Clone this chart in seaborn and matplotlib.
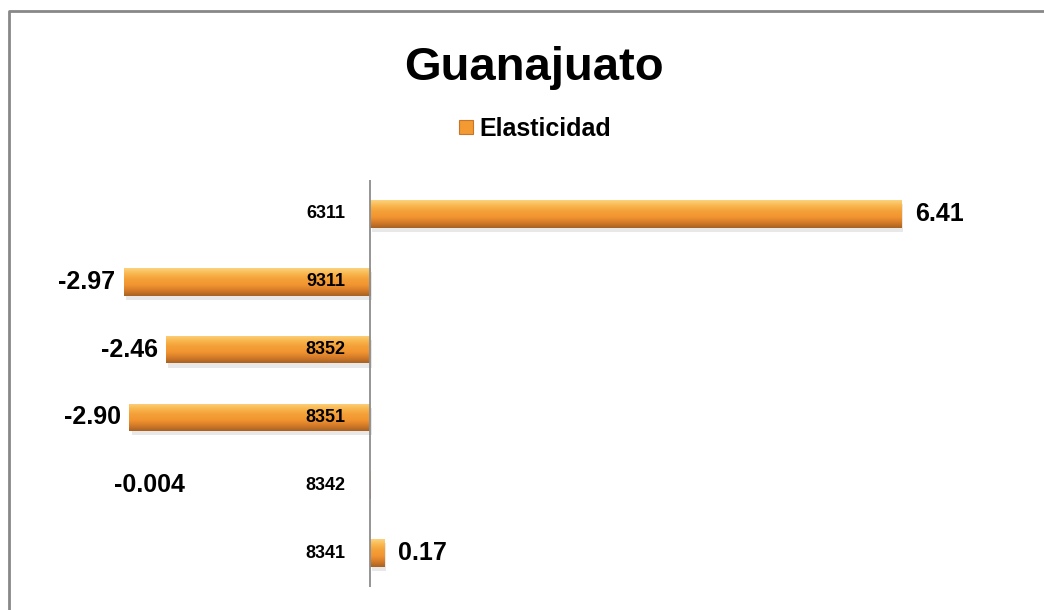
import matplotlib
matplotlib.use("Agg")
import matplotlib.pyplot as plt
import matplotlib.patheffects as pe
from matplotlib.colors import LinearSegmentedColormap
from matplotlib.patches import Rectangle
from matplotlib.lines import Line2D
import numpy as np
import seaborn as sns

codigos = ['6311', '9311', '8352', '8351', '8342', '8341']
elasticidad = [6.41, -2.97, -2.46, -2.90, -0.004, 0.17]
etiquetas = ['6.41', '-2.97', '-2.46', '-2.90', '-0.004', '0.17']

sns.set_style("white")
plt.rcParams['font.family'] = ['Liberation Sans', 'DejaVu Sans']
plt.rcParams['text.color'] = 'black'

W, H = 1044, 610
fig = plt.figure(figsize=(W / 100, H / 100), dpi=100)
ax = fig.add_axes([30 / W, (H - 587) / H, 970 / W, 407 / H])

ancho = 0.41
sns.barplot(x=elasticidad, y=codigos, orient='h', color='#F39A33',
            width=ancho, ax=ax, linewidth=0)

# degradado naranja sobre cada barra
grad = LinearSegmentedColormap.from_list(
    'naranja', ['#FBD27C', '#F9B64E', '#F4A038', '#F29530', '#D67C2A', '#A86222'])
g = np.linspace(0, 1, 64).reshape(-1, 1)
for p in list(ax.patches):
    x0, y0 = p.get_x(), p.get_y()
    w, h = p.get_width(), p.get_height()
    if abs(w) > 0.05:
        p.set_path_effects([pe.SimplePatchShadow(offset=(1.5, -3), alpha=0.15,
                                                 shadow_rgbFace='#666666'), pe.Normal()])
    im = ax.imshow(g, cmap=grad, aspect='auto', origin='upper',
                   extent=(x0, x0 + w, y0 + h, y0), zorder=3)
    im.set_clip_path(p)

ax.set_xlim(-4.1, 7.6)
ax.set_ylim(5.5, -0.5)
ax.axvline(0, color='#8c8c8c', lw=1.3, zorder=4)
for s in ax.spines.values():
    s.set_visible(False)
ax.set_xticks([])
ax.set_yticks([])
ax.set_xlabel('')
ax.set_ylabel('')

for i, (cod, v, t) in enumerate(zip(codigos, elasticidad, etiquetas)):
    ax.text(-0.3, i, cod, ha='right', va='center', fontsize=13,
            fontweight='bold', zorder=5)
    if abs(v) < 0.01:
        ax.text(-2.23, i, t, ha='right', va='center', fontsize=18, fontweight='bold')
    elif v > 0:
        ax.text(v + 0.17, i, t, ha='left', va='center', fontsize=18, fontweight='bold')
    else:
        ax.text(v - 0.1, i, t, ha='right', va='center', fontsize=18, fontweight='bold')

fig.text(534 / W, 1 - 80 / H, 'Guanajuato', ha='center', va='baseline',
         fontsize=34, fontweight='bold')

# leyenda
fig.text(479 / W, 1 - 136 / H, 'Elasticidad', ha='left', va='baseline',
         fontsize=18, fontweight='bold')
fig.add_artist(Rectangle((459 / W, 1 - 134 / H), 14 / W, 14 / H,
                         transform=fig.transFigure, facecolor='#F39A33',
                         edgecolor='#C8742A', lw=0.8))

# marco del gráfico
fig.add_artist(Line2D([9 / W, 9 / W, 1.0], [0.0, 1 - 11 / H, 1 - 11 / H],
                      transform=fig.transFigure, color='#888888', lw=2))

fig.savefig('out.png', dpi=100)
